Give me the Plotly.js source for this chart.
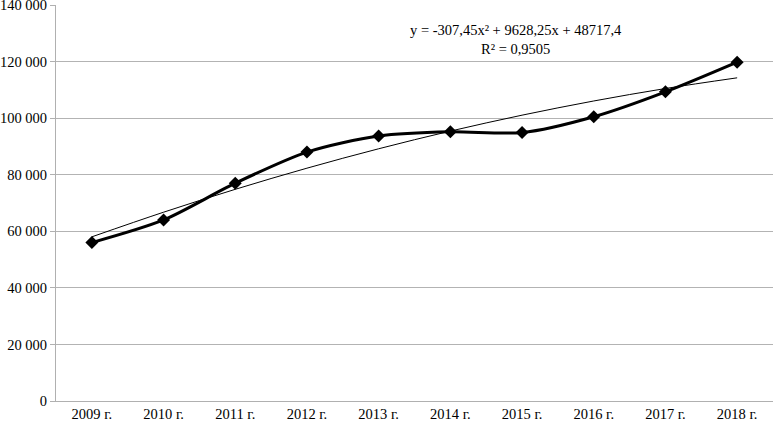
<!DOCTYPE html>
<html>
<head>
<meta charset="utf-8">
<script src="https://cdn.plot.ly/plotly-3.0.1.min.js"></script>
<style>html,body{margin:0;padding:0;background:#fff;}#chart{width:773px;height:424px;}</style>
</head>
<body>
<div id="chart"></div>
<script>
const categories = ["2009 г.","2010 г.","2011 г.","2012 г.","2013 г.","2014 г.","2015 г.","2016 г.","2017 г.","2018 г."];
const values = [56000, 64000, 77000, 88000, 93700, 95200, 94900, 100500, 109300, 119800];
const trendValues = [58038, 66744, 74835, 82311, 89172, 95419, 101050, 106067, 110468, 114255];
const yTicks = [0, 20000, 40000, 60000, 80000, 100000, 120000, 140000];
const equationText = "y = -307,45x² + 9628,25x + 48717,4<br>R² = 0,9505";

const font = {family: "Liberation Serif", size: 14.5, color: "#000"};

const traces = [
  {
    x: categories, y: trendValues, type: "scatter", mode: "lines",
    line: {color: "#000", width: 1, shape: "spline"}, hoverinfo: "skip", cliponaxis: false
  },
  {
    x: categories, y: values, type: "scatter", mode: "lines+markers",
    line: {color: "#000", width: 3, shape: "spline", smoothing: 0.8},
    marker: {symbol: "diamond", size: 10, color: "#000"}, cliponaxis: false
  }
];

const layout = {
  width: 773, height: 424,
  margin: {l: 56, r: 0, t: 5, b: 23},
  paper_bgcolor: "#fff", plot_bgcolor: "#fff",
  showlegend: false,
  separators: ", ",
  font: font,
  xaxis: {
    type: "category", range: [-0.5, 9.5],
    showgrid: false, showline: true, linecolor: "#b0b0b0", linewidth: 1,
    ticks: "", tickfont: font, zeroline: false
  },
  yaxis: {
    range: [0, 140000], tickvals: yTicks, tickformat: ",d",
    showgrid: true, gridcolor: "#b3b3b3", gridwidth: 1,
    showline: true, linecolor: "#b0b0b0", linewidth: 1,
    ticks: "outside", ticklen: 5, tickcolor: "#b0b0b0",
    tickfont: font, zeroline: false, ticklabeloverflow: "allow"
  },
  annotations: [{
    xref: "paper", yref: "paper", x: 0.642, y: 0.912,
    text: equationText, showarrow: false, font: font, align: "center",
    xanchor: "center", yanchor: "middle"
  }]
};

Plotly.newPlot("chart", traces, layout, {staticPlot: true});
</script>
</body>
</html>
